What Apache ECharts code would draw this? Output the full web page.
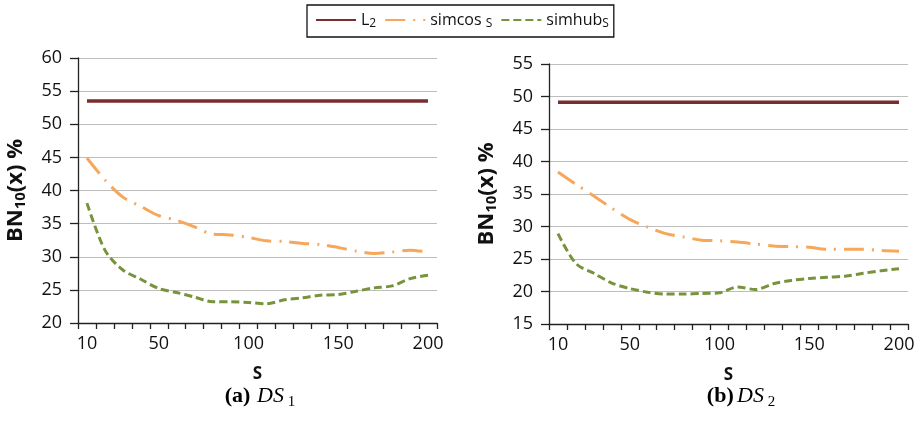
<!DOCTYPE html>
<html><head><meta charset="utf-8">
<script src="https://cdn.jsdelivr.net/npm/echarts@6/dist/echarts.min.js"></script>
<style>html,body{margin:0;padding:0;background:#fff}#c{width:921px;height:421px}</style>
</head><body><div id="c"></div>
<script>
var categories = [10,20,30,40,50,60,70,80,90,100,110,120,130,140,150,160,170,180,190,200];
var shownLabels = [10,50,100,150,200];
var ds1_L2 = [53.5,53.5,53.5,53.5,53.5,53.5,53.5,53.5,53.5,53.5,53.5,53.5,53.5,53.5,53.5,53.5,53.5,53.5,53.5,53.5];
var ds1_simcos = [44.9,41.6,39.0,37.6,36.2,35.5,34.5,33.4,33.3,32.9,32.4,32.3,32.0,31.85,31.4,30.85,30.5,30.7,31.0,30.7];
var ds1_simhub = [38.1,31.0,28.0,26.6,25.2,24.6,23.9,23.2,23.2,23.1,22.9,23.5,23.8,24.2,24.3,24.8,25.3,25.6,26.7,27.2];
var ds2_L2 = [49.1,49.1,49.1,49.1,49.1,49.1,49.1,49.1,49.1,49.1,49.1,49.1,49.1,49.1,49.1,49.1,49.1,49.1,49.1,49.1];
var ds2_simcos = [38.4,36.5,34.7,32.8,31.1,29.9,28.9,28.4,27.9,27.8,27.6,27.3,27.0,26.9,26.8,26.5,26.5,26.5,26.3,26.2];
var ds2_simhub = [28.9,24.3,22.8,21.3,20.45,19.9,19.6,19.6,19.7,19.8,20.7,20.3,21.2,21.7,22.0,22.2,22.35,22.8,23.2,23.5];
var yTicks1 = {min:20,max:60,interval:5};
var yTicks2 = {min:15,max:55,interval:5};

var FONT = 'Open Sans';
var SERIF = 'Liberation Serif';
var cL2 = '#7B2C2F', cCos = '#F6A75A', cHub = '#77933C';

function xAxis(gi){
  return {type:'category', gridIndex:gi, data:categories, boundaryGap:true,
    axisLine:{lineStyle:{color:'#222',width:1.3}},
    axisTick:{show:true, interval:0, inside:false, length:6, lineStyle:{color:'#222',width:1.3}},
    axisLabel:{interval:function(i,v){return shownLabels.indexOf(+v)>=0;}, color:'#111', fontFamily:FONT, fontSize:18, margin:12},
    name:'S', nameLocation:'middle', nameGap:43,
    nameTextStyle:{fontFamily:FONT, fontWeight:'bold', fontSize:17, color:'#111'}
  };
}
function yAxis(gi,t){
  return {type:'value', gridIndex:gi, min:t.min, max:t.max, interval:t.interval,
    axisLine:{show:true,lineStyle:{color:'#222',width:1.3}},
    axisTick:{show:true, length:8, lineStyle:{color:'#222',width:1.3}},
    splitLine:{lineStyle:{color:'#BDBDBD',width:1.2}},
    axisLabel:{color:'#111', fontFamily:FONT, fontSize:18, margin:16},
    name:'{b|BN}{s|10}{b|(x) %}', nameLocation:'middle', nameGap:50, nameRotate:90,
    nameTextStyle:{rich:{b:{fontFamily:FONT,fontWeight:'bold',fontSize:22,color:'#111'},
                         s:{fontFamily:FONT,fontWeight:'bold',fontSize:15,color:'#111',verticalAlign:'bottom',padding:[10,0,0,0]}}}
  };
}
function ser(name,data,gi,color,type,width){
  return {name:name,type:'line',xAxisIndex:gi,yAxisIndex:gi,data:data,smooth:0.3,symbol:'none',
    lineStyle:{color:color,width:width,type:type},itemStyle:{color:color}};
}
var capRich = {b:{fontFamily:SERIF,fontWeight:'bold',fontSize:22,color:'#111'},
               i:{fontFamily:SERIF,fontStyle:'italic',fontSize:22,color:'#111'},
               s:{fontFamily:SERIF,fontSize:15,color:'#111',verticalAlign:'bottom',padding:[12,0,0,0]}};
var chart = echarts.init(document.getElementById('c'),null,{renderer:'canvas'});
chart.setOption({
  animation:false,
  legend:{top:5, left:307, padding:[7,5,7,8], borderColor:'#111', borderWidth:1.3, itemWidth:40, itemHeight:12, itemGap:8,
    data:['L2','simcos','simhub'],
    itemStyle:{opacity:0},
    formatter:function(n){
      if(n==='L2') return '{t|L}{s|2}';
      if(n==='simcos') return '{t|simcos }{s|S}';
      return '{t|simhub}{s|S}';
    },
    textStyle:{rich:{t:{fontFamily:FONT,fontSize:16,color:'#111'},s:{fontFamily:FONT,fontSize:12,color:'#111',verticalAlign:'bottom',padding:[8,0,0,0]}}}
  },
  grid:[{left:78,right:484,top:58,bottom:98},{left:549,right:13,top:64,bottom:97}],
  xAxis:[xAxis(0),xAxis(1)],
  yAxis:[yAxis(0,yTicks1),yAxis(1,yTicks2)],
  series:[
    ser('L2',ds1_L2,0,cL2,'solid',3.5),
    ser('simcos',ds1_simcos,0,cCos,[20,8,2,8],3),
    ser('simhub',ds1_simhub,0,cHub,[8,4],3),
    ser('L2',ds2_L2,1,cL2,'solid',3.5),
    ser('simcos',ds2_simcos,1,cCos,[20,8,2,8],3),
    ser('simhub',ds2_simhub,1,cHub,[8,4],3)
  ],
  graphic:[
    {type:'text',x:260,y:396,style:{text:'{b|(a)}  {i|DS}{s| 1}',align:'center',verticalAlign:'middle',rich:capRich}},
    {type:'text',x:741,y:396,style:{text:'{b|(b)} {i|DS}{s| 2}',align:'center',verticalAlign:'middle',rich:capRich}}
  ]
});
</script></body></html>
